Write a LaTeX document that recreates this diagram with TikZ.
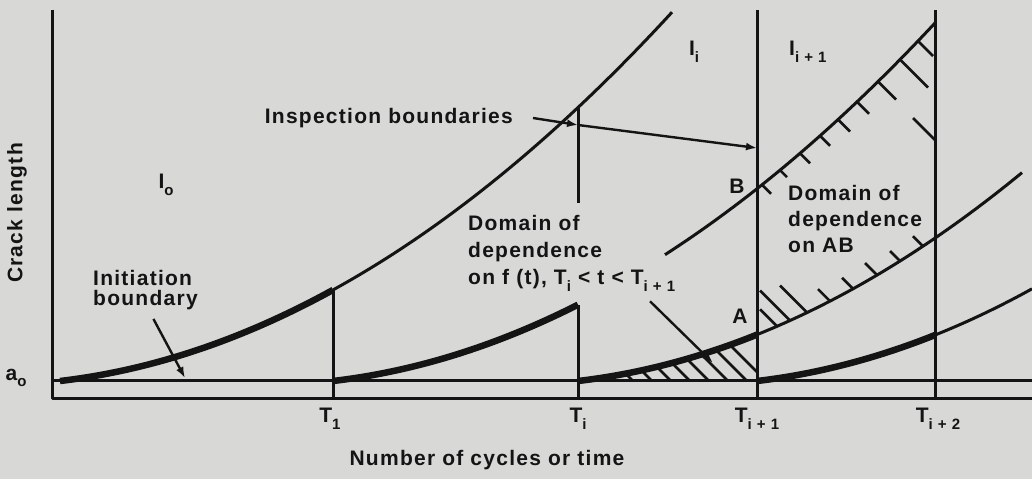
\documentclass[tikz,border=0pt]{standalone}
\usepackage{fontspec}
\setmainfont{Liberation Sans}[LetterSpace=6]
\usetikzlibrary{arrows.meta}
\definecolor{paper}{HTML}{D8D8D6}
\definecolor{ink}{HTML}{141414}
\newcommand{\lsub}[1]{\raisebox{-0.6ex}{\fontsize{15}{15}\selectfont #1}}

\begin{document}
\begin{tikzpicture}[x=1pt, y=1pt, line join=round,
    declare function={crk(\d)=0.000788*\d*\d+0.117*\d;},
    every node/.style={font=\fontsize{21}{24}\selectfont\bfseries, text=ink, inner sep=0pt},
    bound/.style={draw=ink, line width=3pt},
    front/.style={draw=ink, line width=6.5pt},
    hatch/.style={draw=ink, line width=2.6pt},
    pointer/.style={draw=ink, line width=2.4pt, -{Latex[length=11pt,width=8pt]}}]
  \fill[paper] (0,0) rectangle (1032,479);
  \useasboundingbox (0,0) rectangle (1032,479);

  % axes and initial crack size
  \draw[bound] (52,469) -- (52,81) -- (1032,81);
  \draw[bound] (52,98) -- (1032,98);

  % inspection times
  \coordinate (T1top) at (333,{98+crk(273)});
  \coordinate (Titop) at (578,{98+crk(518)});
  \coordinate (Timid) at (578,{98+crk(245)});
  \draw[bound] (333,81) -- (T1top);
  \draw[bound] (578,81) -- (Timid);
  \draw[bound] (578,276) -- (Titop);
  \draw[bound] (757,81) -- (757,469);
  \draw[bound] (935,81) -- (935,469);

  % hatched domain below A
  \begin{scope}
    \clip plot[domain=0:179, samples=30] ({578+\x},{98+crk(\x)}) -- (757,98) -- cycle;
    \foreach \bx in {633,652,...,770}
      \draw[hatch] (\bx,98) -- ++(-60,60);
  \end{scope}

  % crack growth curves
  \draw[front] plot[domain=0:273, samples=40] ({60+\x},{98+crk(\x)});
  \draw[bound] plot[domain=273:612, samples=40] ({60+\x},{98+crk(\x)});
  \draw[front] plot[domain=0:245, samples=40] ({333+\x},{98+crk(\x)});
  \draw[bound] plot[domain=332:602, samples=40] ({333+\x},{98+crk(\x)});
  \draw[front] plot[domain=0:179, samples=40] ({578+\x},{98+crk(\x)});
  \draw[bound] plot[domain=179:444, samples=40] ({578+\x},{98+crk(\x)});
  \draw[front] plot[domain=0:178, samples=40] ({757+\x},{98+crk(\x)});
  \draw[bound] plot[domain=178:275, samples=40] ({757+\x},{98+crk(\x)});

  % ticks on domain of dependence on AB
  \foreach \xs/\len in {762/9, 780/7, 800/10, 820/10, 838/12, 857/12, 878/18, 900/28, 918/15}
    \draw[hatch] (\xs,{98+crk(\xs-333)}) -- ++(\len,-\len);
  \foreach \xs/\len in {790/30, 807/27, 777/17, 830/12, 853/11, 877/12, 900/10, 923/10}
    \draw[hatch] (\xs,{98+crk(\xs-578)}) -- ++(-\len,\len);
  \draw[hatch] (913,361) -- (935,339);

  % labels
  \node[rotate=90] (YLAB) at (17,266) {Crack length};
  \node (AO) at (16,101) {a\lsub{o}};
  \node (IO) at (166,294) {I\lsub{o}};
  \node (II) at (694,427) {I\lsub{i}};
  \node[anchor=west] (INEXT) at (789,427) {I\lsub{i + 1}};
  \node (BPT) at (737,293) {B};
  \node (APT) at (740,163) {A};
  \node[anchor=north west, align=left, font=\fontsize{21}{20}\selectfont\bfseries]
    (INIT) at (93,209) {Initiation\\boundary};
  \node[anchor=east] (INSP) at (513,361) {Inspection boundaries};
  \node[anchor=north west, align=left, font=\fontsize{21}{27}\selectfont\bfseries]
    (DOMF) at (468,264) {Domain of\\dependence\\on f (t), T\lsub{i} < t < T\lsub{i + 1}};
  \node[anchor=north west, align=left, font=\fontsize{21}{26}\selectfont\bfseries]
    (DOMAB) at (788,294) {Domain of\\dependence\\on AB};
  \node[anchor=north] (LT1) at (330,71) {T\lsub{1}};
  \node[anchor=north] (LTI) at (578,71) {T\lsub{i}};
  \node[anchor=north] (LTN) at (757,71) {T\lsub{i + 1}};
  \node[anchor=north] (LTNN) at (938,71) {T\lsub{i + 2}};
  \node (XLAB) at (487,19) {Number of cycles or time};

  % pointers
  \coordinate (BI) at (578,354);
  \coordinate (BN) at (757,331);
  \coordinate (INITP) at (185,101);
  \coordinate (DOMP) at (713,116);
  \draw[pointer] ([xshift=20pt]INSP.east) -- (BI);
  \draw[pointer] (BI) -- (BN);
  \draw[pointer] ([xshift=8pt,yshift=-9pt]INIT.south) -- (INITP);
  \draw[pointer] ([xshift=182pt,yshift=-10pt]DOMF.south west) -- (DOMP);
\end{tikzpicture}
\end{document}
